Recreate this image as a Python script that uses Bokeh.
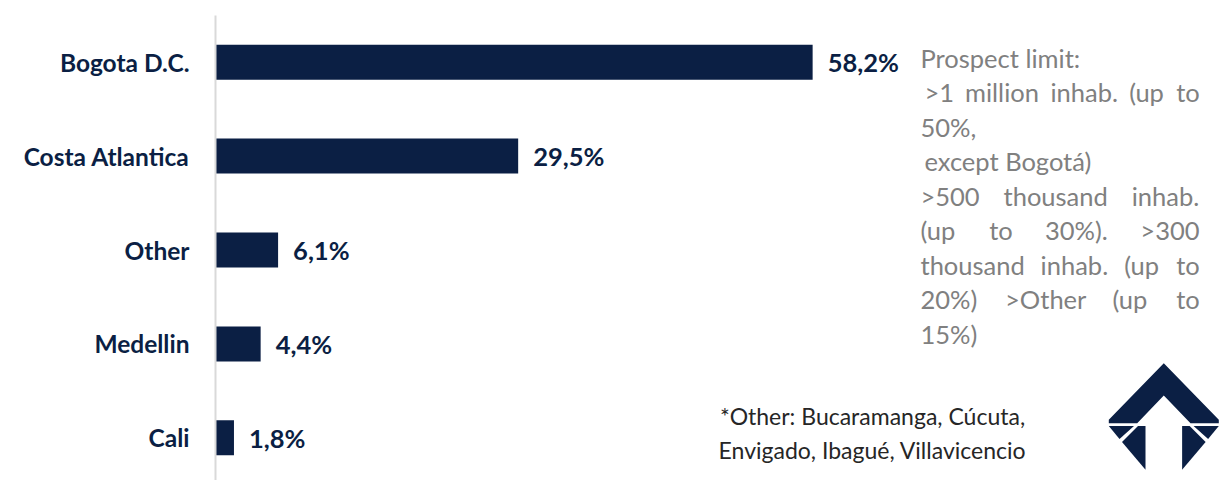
from bokeh.plotting import figure
from bokeh.models import Range1d, FixedTicker, Label, PolyAnnotation, ColumnDataSource
from bokeh.core.properties import value
from bokeh.embed import file_html
from bokeh.resources import INLINE

# ---- data ----
categories = ["Bogota D.C.", "Costa Atlantica", "Other", "Medellin", "Cali"]
shares = [58.2, 29.5, 6.1, 4.4, 1.8]
share_labels = [f"{v:.1f}%".replace(".", ",") for v in shares]

note_lines = [
    "Prospect limit:",
    " >1 million inhab. (up to",
    "50%,",
    " except Bogotá)",
    ">500 thousand inhab.",
    "(up to 30%). >300",
    "thousand inhab. (up to",
    "20%) >Other (up to",
    "15%)",
]
justified = [False, True, False, False, True, True, True, True, False]
footnote_lines = ["*Other: Bucaramanga, Cúcuta,", "Envigado, Ibagué, Villavicencio"]

# ---- layout constants (page pixels) ----
W, H = 1220, 480
LEFT, TOP = 215, 15
PXU = 10.26      # pixels per percentage point
ROW = 93.9       # pixels between bar rows
FIRST = 46.7     # frame top -> first bar centre
NAVY = "#0b1f44"
GRAY = "#808080"
FONT = "Lato"
NOTE_SIZE = 25.5

frame_w = W - LEFT
frame_h = H - TOP


def dx(px):
    return (px - LEFT) / PXU


def dy(py):
    return (py - TOP - FIRST) / ROW


# approximate advance widths (em) of Lato Regular, used for justifying lines
EM = {
    'a': .51, 'b': .56, 'c': .46, 'd': .56, 'e': .53, 'f': .31, 'g': .50, 'h': .56,
    'i': .24, 'j': .24, 'k': .50, 'l': .24, 'm': .84, 'n': .56, 'o': .56, 'p': .56,
    'q': .56, 'r': .36, 's': .43, 't': .35, 'u': .56, 'v': .50, 'w': .77, 'x': .49,
    'y': .50, 'z': .45, '>': .58, '(': .30, ')': .30, '.': .23, ',': .23, '%': .78,
    'O': .76, ':': .25,
}


def text_w(s):
    return sum(EM.get(ch, .58) for ch in s) * NOTE_SIZE


p = figure(width=W, height=H, output_backend="svg", toolbar_location=None,
           x_range=Range1d(0, frame_w / PXU),
           y_range=Range1d((frame_h - FIRST) / ROW, -FIRST / ROW),
           x_axis_location=None,
           min_border_left=LEFT, min_border_top=TOP,
           min_border_right=0, min_border_bottom=0)
p.outline_line_color = None
p.grid.visible = False
p.background_fill_color = "white"
p.border_fill_color = "white"

pos = list(range(len(categories)))
src = ColumnDataSource(dict(y=pos, right=shares, label=share_labels))
p.hbar(y="y", right="right", left=0, height=35 / ROW, source=src,
       fill_color=NAVY, line_color=None)
p.text(x="right", y="y", text="label", source=src, x_offset=15,
       text_baseline="middle", text_align="left",
       text_font=value(FONT), text_font_style="bold",
       text_font_size="25.5px", text_color=NAVY)

ax = p.yaxis[0]
ax.ticker = FixedTicker(ticks=pos)
ax.major_label_overrides = {i: c for i, c in enumerate(categories)}
ax.major_tick_line_color = None
ax.minor_tick_line_color = None
ax.axis_line_color = "#d9d9d9"
ax.axis_line_width = 2
ax.major_label_standoff = 20
ax.major_label_text_font = FONT
ax.major_label_text_font_style = "bold"
ax.major_label_text_font_size = "24.5px"
ax.major_label_text_color = NAVY

# ---- note text (justified lines placed word by word) ----
NOTE_L, NOTE_R = 920, 1199
base0, lstep = 57.0, 34.5
for i, line in enumerate(note_lines):
    yb = dy(base0 + i * lstep)
    kw = dict(y=yb, text_font=FONT, text_font_size=f"{NOTE_SIZE}px", text_color=GRAY,
              text_baseline="alphabetic", text_align="left")
    lead = 4 if line.startswith(" ") else 0
    words = line.split()
    if justified[i]:
        widths = [text_w(w_) for w_ in words]
        gap = (NOTE_R - NOTE_L - lead - sum(widths)) / (len(words) - 1)
        x = NOTE_L + lead
        for w_, ww in zip(words, widths):
            p.add_layout(Label(x=dx(x), text=w_, **kw))
            x += ww + gap
    else:
        p.add_layout(Label(x=dx(NOTE_L + lead), text=line.strip(), **kw))

for i, line in enumerate(footnote_lines):
    p.add_layout(Label(x=dx(872), y=dy(415 + i * 34.5), text=line, text_align="center",
                       text_font=FONT, text_font_size="23px", text_color="#262626",
                       text_baseline="alphabetic"))

# ---- logo ----
logo_parts = [
    [(1163.3, 362.7), (1218.3, 419.3), (1218.3, 422.7), (1190, 422.7), (1163.3, 395),
     (1136.7, 422.7), (1108.3, 422.7), (1108.3, 419.3)],
    [(1108.3, 425.5), (1133.5, 425.5), (1119, 438.5)],
    [(1137.5, 425.5), (1145, 425.5), (1145, 469.3), (1121.5, 441.5)],
    [(1218.3, 425.5), (1193.1, 425.5), (1207.6, 438.5)],
    [(1189.1, 425.5), (1181.6, 425.5), (1181.6, 469.3), (1205.1, 441.5)],
]
for part in logo_parts:
    p.add_layout(PolyAnnotation(xs=[dx(x) for x, _ in part],
                                ys=[dy(y) for _, y in part],
                                fill_color=NAVY, fill_alpha=1.0, line_color=None))

open("out.html", "w").write(file_html(p, INLINE))
